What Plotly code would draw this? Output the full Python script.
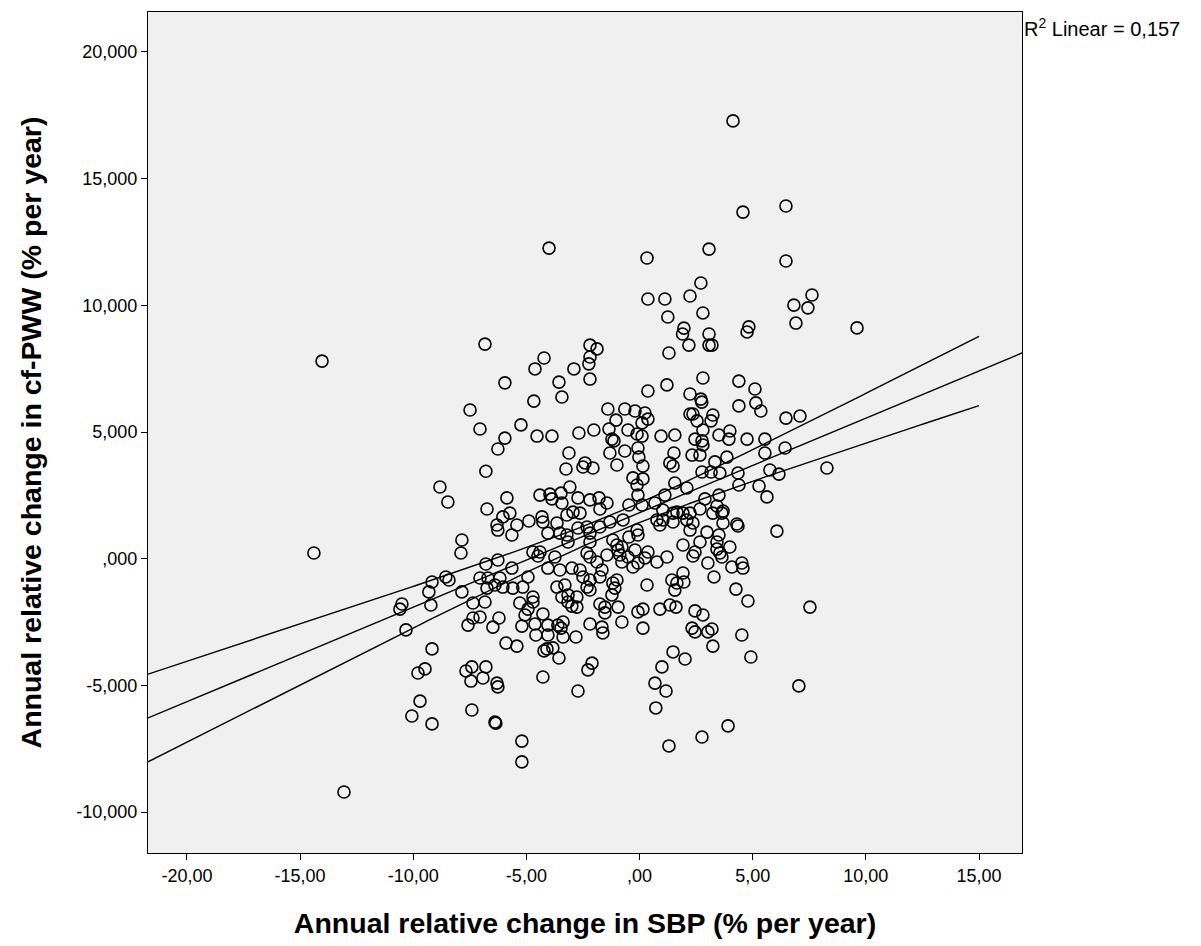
import numpy as np
import plotly.graph_objects as go

# Annual relative change in SBP (% per year)
sbp = [
-6.83,-4.00,0.33,0.37,1.12,1.25,1.96,1.90,-2.19,4.13,4.57,6.47,3.07,6.47,2.71,2.23,2.80,7.62,6.82,7.44,
6.91,9.61,4.83,4.75,3.07,2.18,-14.03,-7.49,-7.05,-1.88,-2.19,-2.24,-2.19,-4.22,-4.62,-2.90,-3.56,-3.43,-5.95,-4.67,
1.30,1.21,0.37,-1.40,-0.65,-0.20,0.24,-1.04,0.37,0.11,-5.24,-5.95,-6.26,-4.53,-3.87,-2.68,-2.02,-1.35,-0.51,-0.11,
0.11,-1.22,-1.13,0.95,1.56,-0.07,-0.65,-1.31,-0.03,-3.12,1.52,1.34,1.48,-2.41,-2.50,-2.06,-1.00,-3.25,0.15,
3.07,3.20,2.80,4.39,5.10,2.23,2.71,2.75,5.14,4.39,5.36,2.23,2.36,2.54,3.24,3.16,6.47,7.09,2.80,3.51,
3.99,3.95,2.45,2.76,2.80,4.75,5.54,6.43,5.54,2.32,2.67,3.86,3.33,8.28,2.76,3.16,3.55,4.35,5.76,6.16,
4.39,5.28,5.63,2.09,2.89,3.51,2.67,3.42,3.69,3.64,3.24,2.23,1.92,2.09,2.36,3.69,4.30,4.35,6.07,2.23,
2.98,3.51,2.67,3.42,3.99,1.92,3.42,3.55,2.45,2.36,3.64,3.02,4.08,4.52,4.57,1.92,1.96,3.29,4.26,4.79,
7.53,2.45,2.80,2.32,2.45,3.02,3.20,3.24,2.01,4.52,4.92,7.04,3.91,2.76,
-5.29,-4.93,-5.06,-4.71,-6.21,-6.48,-5.20,-4.62,-4.27,-4.05,-3.61,-3.38,-3.47,-4.58,-4.05,-3.38,-2.81,-5.90,-5.42,-4.22,
-4.09,-3.83,-3.56,-3.16,-2.99,-2.77,-1.75,-1.53,-1.53,-0.95,-2.19,-1.66,-1.62,-0.78,-0.07,0.15,0.90,1.34,1.61,0.15,
1.48,0.99,0.68,1.17,0.72,1.30,-6.79,-6.30,-6.26,-2.10,-2.28,-4.27,-2.72,-6.39,-6.35,-5.20,-5.20,
-10.50,-10.59,-9.22,-10.32,-9.17,-9.79,-9.48,-9.70,-10.06,-9.17,-13.06,-7.36,-6.83,-7.36,-7.05,-7.58,-7.67,-7.41,-6.92,-7.45,
-7.41,-8.82,-8.47,-6.79,-6.74,-7.85,-7.89,-14.39,-6.79,-9.17,-8.56,-8.42,-9.31,-7.05,-6.70,-7.85,-6.74,
-0.29,0.15,-0.11,1.56,-5.86,-4.40,-3.96,-3.87,-3.47,-3.08,-3.43,-2.72,-2.19,-1.79,-1.44,-1.75,-0.47,0.11,-0.07,0.68,
1.12,1.03,1.48,1.03,-6.30,-6.04,-5.73,-6.26,-5.42,-5.64,-4.89,-4.31,-4.27,-3.65,-3.21,-2.94,-2.63,-3.52,-3.21,-2.72,
-2.32,-2.19,-4.05,-3.16,-2.19,-1.31,-0.73,-1.75,-0.11,-0.07,-1.18,-1.00,-0.78,-0.95,0.77,0.90,1.48,1.65,-0.47,-4.71,
-4.40,-4.49,-6.26,-5.64,-3.74,-4.05,-3.52,-2.99,-2.63,-2.32,-2.19,-1.88,-1.66,-1.44,-0.87,-0.78,-0.51,-0.20,-0.07,0.24,
0.37,-0.29,0.77,1.21,1.43,1.65,-6.17,-6.04,-6.39,-5.60,-5.16,-4.93,-4.71,-3.65,-3.30,-3.16,-3.43,-2.50,-2.19,-2.32,
-2.19,-1.75,-1.18,-1.00,-1.09,-1.22,0.33,1.56,-2.77,
]

# Annual relative change in cf-PWW (% per year)
pww = [
8470,12260,11870,10250,10250,9540,9100,8870,8430,17280,13680,13920,12220,11750,10880,10370,9700,10410,10010,9900,
9300,9110,9150,8950,8870,8430,7800,5870,5120,8280,7960,7690,7090,7920,7490,7490,6970,6380,6940,6220,
8120,6860,6620,5910,5910,5830,5750,5470,5510,5360,5280,4760,4330,4840,4840,4960,5080,5120,5080,4920,
4840,4720,4650,4840,4880,4370,4250,4170,4010,4170,4170,3780,3660,3780,3620,3580,3700,3540,3660,
8430,8430,7130,7010,6700,6500,6300,6180,6150,6030,5830,5710,5710,5440,5670,5440,5550,5630,5080,4880,
5040,4720,4720,4650,4490,4720,4720,4370,4170,4090,4090,4010,3820,3580,3420,3420,3380,3380,3500,3340,
2910,2870,2440,2790,2360,2510,1960,2080,1880,1800,1800,1800,1800,1530,1410,1410,1370,1290,1090,1130,
1050,935,660,660,460,540,380,225,265,105,65,-170,-330,-170,-370,-565,-920,-720,-1200,-1670,
-1910,-2060,-2220,-2740,-2890,-2890,-2775,-3450,-3960,-3010,-3880,-5020,-6600,-7040,
-1750,-1990,-2220,-1710,-2340,-2700,-2660,-2580,-2180,-2620,-2620,-2500,-2740,-3010,-3010,-3090,-3090,-3330,-3450,-3640,
-3560,-3520,-3920,-1710,-1870,-1910,-1790,-1910,-2140,-1910,-2580,-2700,-2930,-2500,-2100,-1990,-1990,-1830,-1910,-2740,
-3680,-4270,-4910,-5220,-5890,-7390,-4270,-4910,-5060,-4120,-4390,-4670,-5220,-6450,-6490,-7200,-8020,
-1790,-1990,-1830,-2810,-3560,-4510,-4350,-5620,-6210,-6520,-9210,-1750,-1710,-2340,-2300,-2620,-4430,-4270,-4710,-4830,
-5970,2830,2240,3450,1960,740,225,225,-210,-920,-720,-840,-1310,-760,-760,-1310,-1160,
3190,3150,2910,2990,2400,2510,2550,2360,2590,2830,2200,2400,2320,2400,2200,1960,2120,2120,2510,2200,
2510,1920,1800,1530,1330,1650,1800,1130,1330,935,1490,1650,1450,1410,1725,1840,1800,1010,935,1210,
1250,1010,1010,660,660,1450,1530,1250,1130,935,740,540,460,345,1530,1330,1450,1840,855,265,
265,105,-50,-370,65,-370,-445,-370,-445,225,65,-130,-445,145,145,-130,65,345,-170,30,
265,-330,-130,65,-840,-960,-760,-1120,-1040,-1160,-1120,-720,-1510,-1120,-1040,-1430,-1510,-720,-840,-1120,
-1235,-720,-960,-840,-1160,-1430,-1040,-1240,-1510,
]

x_tick_vals = [-20, -15, -10, -5, 0, 5, 10, 15]
x_tick_text = ["-20,00", "-15,00", "-10,00", "-5,00", ",00", "5,00", "10,00", "15,00"]
y_tick_vals = [20000, 15000, 10000, 5000, 0, -5000, -10000]
y_tick_text = ["20,000", "15,000", "10,000", "5,000", ",000", "-5,000", "-10,000"]
x_range = [-21.72, 16.9]
y_range = [-11616, 21578]
ci_x_end = 15.0
r2_label = "R<sup>2</sup> Linear = 0,157"

# Linear fit summary
fit_intercept = 1815.0
fit_slope = 373.0
t_crit = 1.966
se_mean = 190.0     # standard error of the fitted mean at x-bar
se_slope = 41.6     # standard error of the slope

n = min(len(sbp), len(pww))
x = np.array(sbp[:n], dtype=float)
y = np.array(pww[:n], dtype=float)
xbar = x.mean()

xf = np.linspace(x_range[0], x_range[1], 200)
yf = fit_intercept + fit_slope * xf
xc = np.linspace(x_range[0], ci_x_end, 200)
hw = t_crit * np.sqrt(se_mean ** 2 + (se_slope * (xc - xbar)) ** 2)
yc = fit_intercept + fit_slope * xc

FONT = "Liberation Sans, Arial, sans-serif"

fig = go.Figure()
fig.add_trace(go.Scatter(x=xc, y=yc + hw, mode="lines",
                         line=dict(color="black", width=1.4), hoverinfo="skip", showlegend=False))
fig.add_trace(go.Scatter(x=xc, y=yc - hw, mode="lines",
                         line=dict(color="black", width=1.4), hoverinfo="skip", showlegend=False))
fig.add_trace(go.Scatter(x=xf, y=yf, mode="lines",
                         line=dict(color="black", width=1.4), hoverinfo="skip", showlegend=False))
fig.add_trace(go.Scatter(x=x, y=y, mode="markers",
                         marker=dict(symbol="circle-open", size=12, color="black",
                                     line=dict(color="black", width=1.6)),
                         showlegend=False))

axis_common = dict(showgrid=False, zeroline=False, showline=True, mirror=True,
                   linecolor="black", linewidth=1, ticks="outside", ticklen=6,
                   tickcolor="black", tickwidth=1,
                   tickfont=dict(family=FONT, size=18, color="black"))

fig.update_layout(
    width=1201, height=946,
    margin=dict(l=148, r=179, t=12, b=93),
    paper_bgcolor="white", plot_bgcolor="#F0F0F0",
    font=dict(family=FONT, color="black"),
    xaxis=dict(range=x_range, tickvals=x_tick_vals, ticktext=x_tick_text,
               title=dict(text="<b>Annual relative change in SBP (% per year)</b>",
                          font=dict(family=FONT, size=28.5, color="black"), standoff=28),
               **axis_common),
    yaxis=dict(range=y_range, tickvals=y_tick_vals, ticktext=y_tick_text,
               title=dict(text="<b>Annual relative change in cf-PWW (% per year)</b>",
                          font=dict(family=FONT, size=28.5, color="black"), standoff=26),
               **axis_common),
    annotations=[dict(text=r2_label, xref="paper", yref="paper", x=1.0, y=0.981,
                      xanchor="left", yanchor="middle", showarrow=False,
                      font=dict(family=FONT, size=20, color="black"))],
)

fig.write_html("out.html")
